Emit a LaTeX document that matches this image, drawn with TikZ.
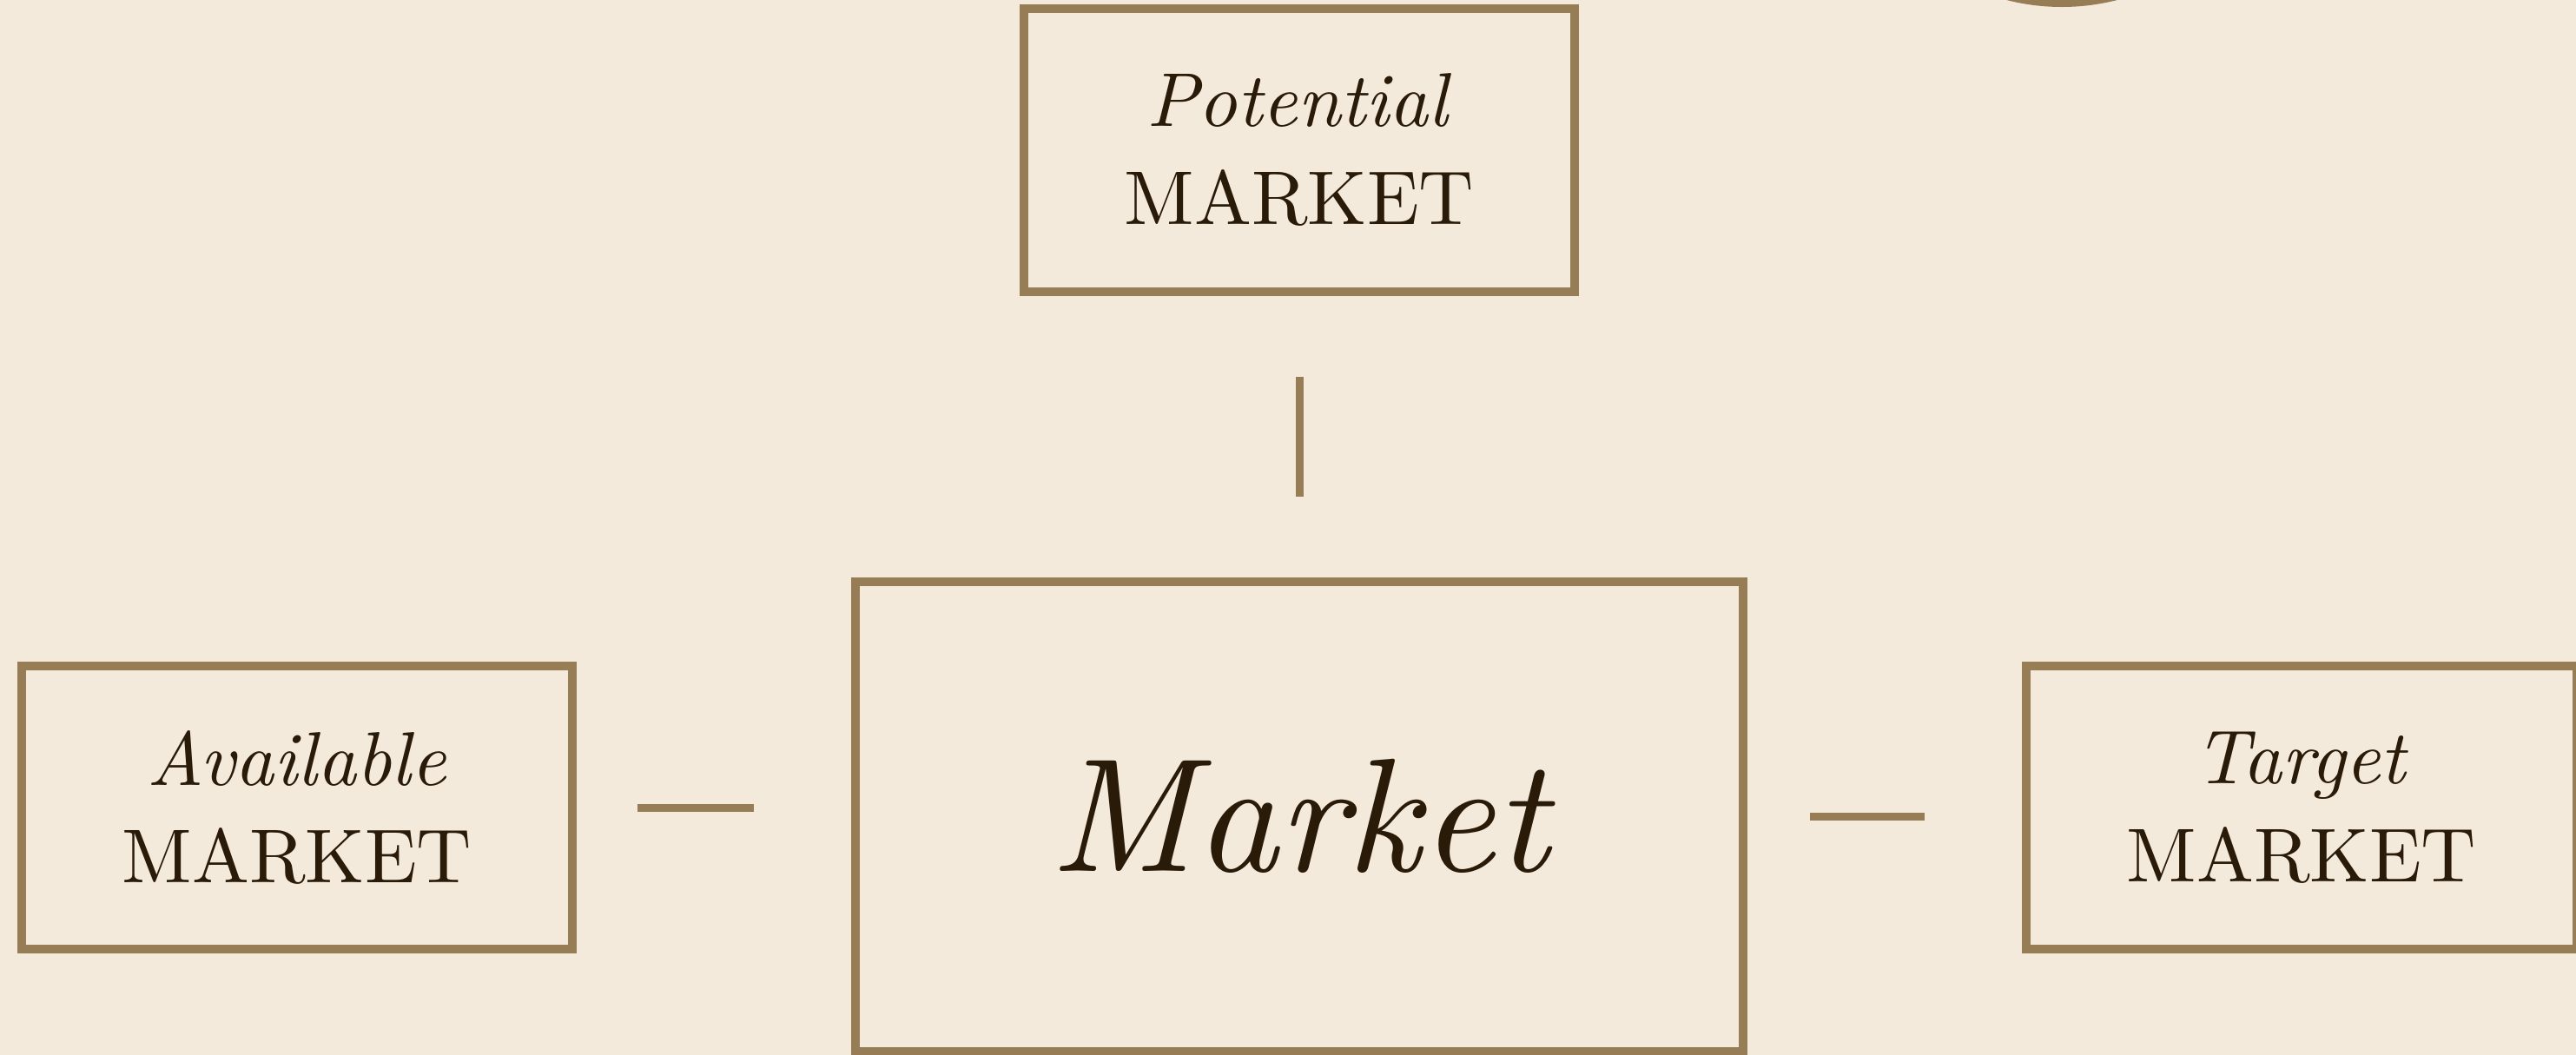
\documentclass[tikz,border=0pt]{standalone}
\usepackage{fontspec}
\setmainfont{lmroman10}[Extension=.otf, UprightFont=*-regular, ItalicFont=*-italic]
\usetikzlibrary{positioning}

\definecolor{paper}{HTML}{F3EADC}
\definecolor{frame}{HTML}{977D55}
\definecolor{ink}{HTML}{2A1B08}

\begin{document}
\begin{tikzpicture}[
        node distance=3.24cm and 3.16cm,
        box/.style={
            rectangle,
            draw=frame,
            line width=0.1cm,
            text=ink,
            align=center,
            minimum width=6.34cm,
            minimum height=3.26cm,
            inner sep=0pt,
            font=\fontsize{25}{32}\selectfont
        },
        mainbox/.style={
            box,
            minimum width=10.22cm,
            minimum height=5.41cm,
            font=\fontsize{53}{60}\selectfont\itshape
        },
        link/.style={draw=frame, line width=0.09cm}
    ]
        % -- Tło (Background) --
        \fill [paper] (0,0) rectangle (29.66,-12.15);
        \useasboundingbox (0,0) rectangle (29.66,-12.15);

        % Fragment koła w rogu
        \fill [frame] (23.74,2.48) circle (2.56);

        % -- Węzły (Nodes) --

        % Środek
        \node [mainbox] (market) at (14.96,-9.40) {Market};

        % Góra, lewo, prawo
        \node [box, above=of market] (potential) {\textit{Potential}\\MARKET};
        \node [box, left=of market, yshift=0.1cm] (available) {\textit{Available}\\MARKET};
        \node [box, right=of market, yshift=0.1cm] (target) {\textit{Target}\\MARKET};

        % -- Ścieżki (Paths) --
        \path [link, shorten <=0.93cm, shorten >=0.93cm] (potential) -- (market);
        \path [link, shorten <=0.7cm, shorten >=1.12cm] (available.east) -- (available.east -| market.west);
        \path [link, shorten <=0.72cm, shorten >=1.12cm] (market.east) -- (market.east -| target.west);

\end{tikzpicture}
\end{document}
